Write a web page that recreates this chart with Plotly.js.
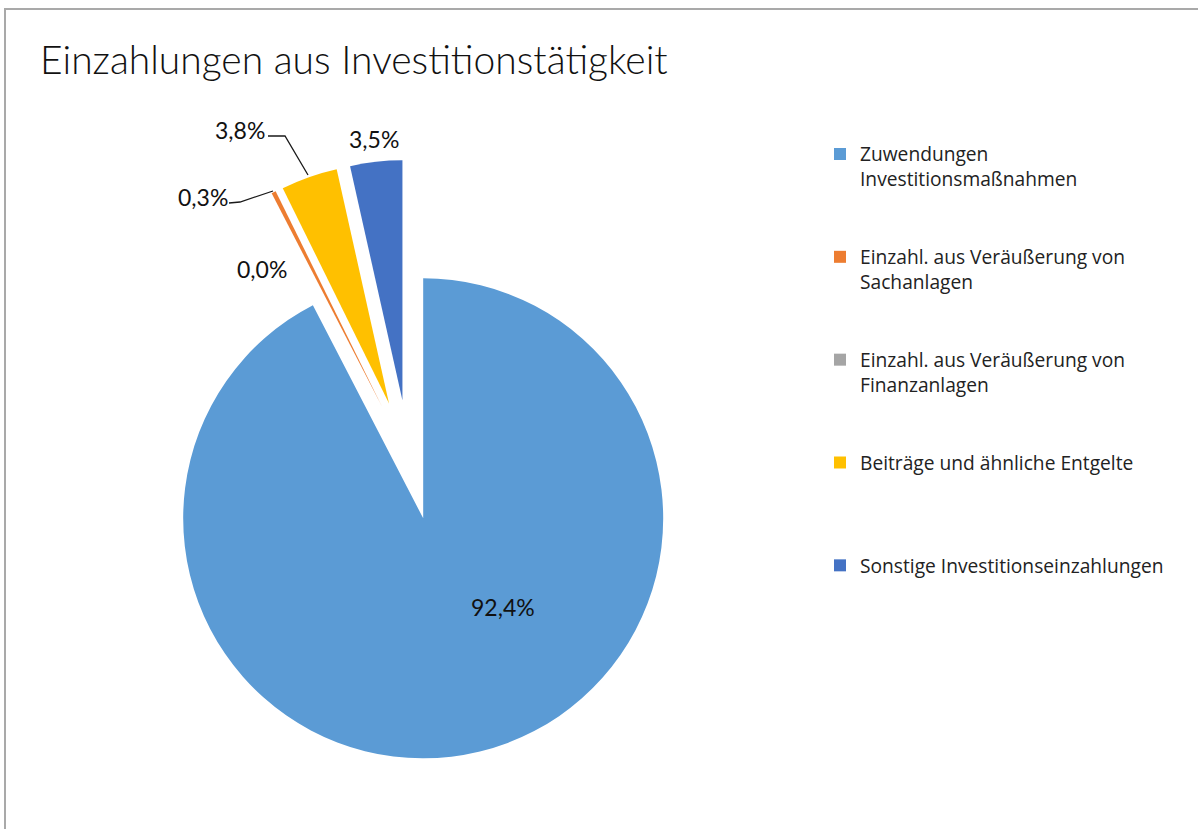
<!DOCTYPE html>
<html>
<head>
<meta charset="utf-8">
<script src="https://cdn.plot.ly/plotly-3.0.1.min.js"></script>
<style>
  html, body { margin: 0; padding: 0; background: #ffffff; overflow: hidden; }
  #frame { position: absolute; left: 4px; top: 8px; width: 2000px; height: 2000px;
           border-left: 2px solid #a9a9a9; border-top: 2px solid #a9a9a9; }
  #chart { position: absolute; left: 0; top: 0; width: 1198px; height: 829px; }
</style>
</head>
<body>
<div id="frame"></div>
<div id="chart"></div>
<script>
// ---- data ----
const categories = [
  "Zuwendungen<br>Investitionsmaßnahmen",
  "Einzahl. aus Veräußerung von<br>Sachanlagen",
  "Einzahl. aus Veräußerung von<br>Finanzanlagen",
  "Beiträge und ähnliche Entgelte",
  "Sonstige Investitionseinzahlungen"
];
const shares = [92.4, 0.3, 0.0, 3.8, 3.5];
const sliceColors = ["#5b9bd5", "#ed7d31", "#a5a5a5", "#ffc000", "#4472c4"];
const chartTitle = "Einzahlungen aus Investitionstätigkeit";

// ---- presentation ----
const W = 1198, H = 829;
const pull = 0.25;
const box = { left: 109, right: 709, top: 160, bottom: 760 };   // pie box in px
// data-label anchor positions (px), one per slice, as laid out in the original chart
const labelPos = [[503, 607], [203, 197], [262, 269], [240, 130], [374, 139]];
// leader lines (px) for the labels that have them
const leaders = [
  [[229, 203], [240, 202], [273, 191]],
  [[268, 136], [285, 136], [308, 175]]
];

// legend labels padded to equal line counts so entries are evenly spaced
const legendLines = 4;
const labels = categories.map(c => {
  const lines = c.split("<br>");
  while (lines.length < legendLines) lines.push("\u00a0");
  return lines.join("<br>");
});

const px = x => x / W;
const py = y => 1 - y / H;
const fmtPct = v => v.toFixed(1).replace(".", ",") + "%";

const trace = {
  type: "pie",
  labels: labels,
  values: shares,
  sort: false,
  direction: "clockwise",
  rotation: 0,
  pull: shares.map(() => pull),
  marker: { colors: sliceColors, line: { width: 0 } },
  textposition: "none",
  domain: { x: [px(box.left), px(box.right)], y: [py(box.bottom), py(box.top)] },
  showlegend: true,
  hoverinfo: "label+percent"
};

const labelFont = { family: "Lato, sans-serif", size: 23, color: "#111111" };
const annotations = shares.map((v, i) => ({
  text: fmtPct(v),
  x: px(labelPos[i][0]), y: py(labelPos[i][1]),
  xref: "paper", yref: "paper",
  xanchor: "center", yanchor: "middle",
  showarrow: false,
  font: labelFont
}));

const shapes = leaders.map(pts => ({
  type: "path",
  xref: "paper", yref: "paper",
  path: pts.map((p, j) => (j ? "L" : "M") + px(p[0]) + "," + py(p[1])).join(" "),
  line: { color: "#1a1a1a", width: 1.3 }
}));

const layout = {
  width: W, height: H,
  margin: { l: 0, r: 0, t: 0, b: 0, autoexpand: false },
  paper_bgcolor: "rgba(0,0,0,0)",
  plot_bgcolor: "rgba(0,0,0,0)",
  separators: ",.",
  title: {
    text: chartTitle,
    font: { family: "Lato, sans-serif", size: 39, color: "#111111", weight: 300 },
    x: px(40), xanchor: "left", xref: "paper",
    y: py(60), yanchor: "middle", yref: "container"
  },
  legend: {
    x: px(820), xanchor: "left",
    y: py(135), yanchor: "top",
    valign: "top",
    font: { family: "Open Sans, sans-serif", size: 19.2, color: "#222222" },
    bgcolor: "rgba(0,0,0,0)",
    traceorder: "normal"
  },
  annotations: annotations,
  shapes: shapes,
  showlegend: true
};

Plotly.newPlot("chart", [trace], layout, { displayModeBar: false, staticPlot: true });
</script>
</body>
</html>
